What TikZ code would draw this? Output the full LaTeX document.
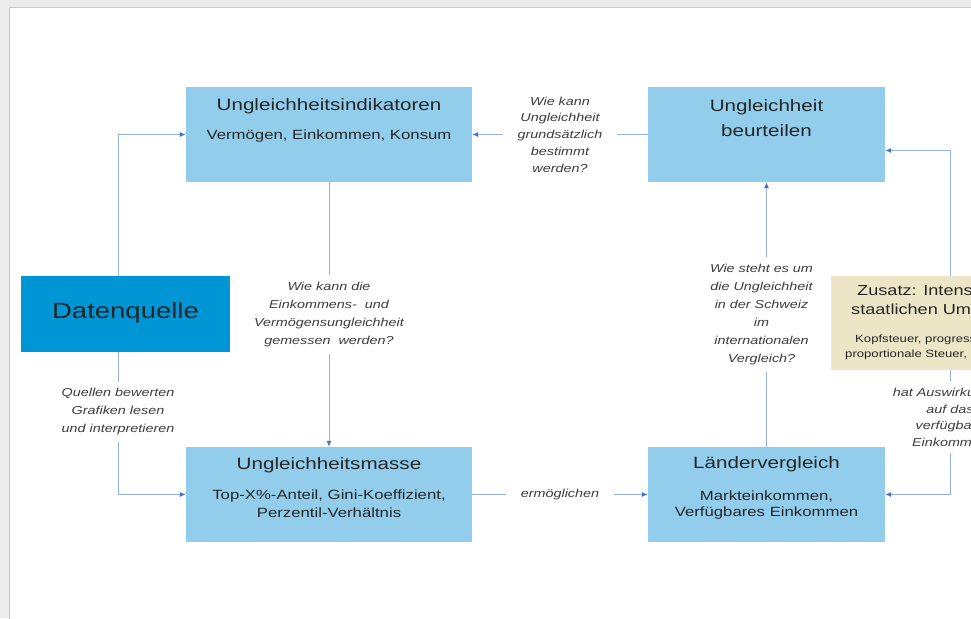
\documentclass[tikz,border=0pt]{standalone}
\usepackage{fontspec}
\setmainfont{Liberation Sans}[FakeStretch=1.25]
\usepackage{tikz}
\usetikzlibrary{positioning}
\usetikzlibrary{arrows.meta}
\definecolor{boxblue}{RGB}{146,205,236}
\definecolor{sourceblue}{RGB}{0,150,214}
\definecolor{extrabeige}{RGB}{236,230,198}
\definecolor{linkblue}{RGB}{150,176,222}
\definecolor{tipblue}{RGB}{68,114,196}
\definecolor{labelgray}{RGB}{60,60,60}
\definecolor{pagegray}{RGB}{236,236,236}
\definecolor{pageedge}{RGB}{200,200,200}
\tikzset {
  % boxes of the scheme
  box/.style = {fill=boxblue, minimum width=286pt, minimum height=95pt, inner sep=0pt},
  narrow/.style = {minimum width=237pt},
  source/.style = {fill=sourceblue, minimum width=209pt, minimum height=76pt, inner sep=0pt},
  extra/.style = {fill=extrabeige, minimum width=238pt, minimum height=94pt, inner sep=0pt},
  % texts in the boxes
  head/.style = {anchor=base, inner sep=0pt, align=center, text=black!85,
    font=\fontsize{16.5}{25}\selectfont},
  sub/.style = {anchor=base, inner sep=0pt, align=center, text=black!85,
    font=\fontsize{13.4}{17}\selectfont},
  small/.style = {anchor=base west, inner sep=0pt, text=black!85,
    font=\fontsize{10.5}{15}\selectfont},
  % connectors and their questions
  link/.style = {linkblue, line width=1pt, -{Latex[length=6pt,width=5pt,color=tipblue]}},
  lbl/.style = {fill=white, inner xsep=15pt, inner ysep=7pt, align=center, text=labelgray,
    font=\itshape\fontsize{11.5}{18}\selectfont},
}
\begin{document}
\begin{tikzpicture}[x=1pt, y=-1pt]
        \useasboundingbox (0,0) rectangle (971,618);
        \clip (0,0) rectangle (971,618);
        \fill[pagegray] (0,0) rectangle (971,618);
        \draw[pageedge, fill=white] (9,7) rectangle (990,640);

        \node[box] (indik) at (329, 134.5) {};
        \node[box, narrow] (urteil) at (766.5, 134.5) {};
        \node[source] (quelle) at (125.5, 314) {};
        \node[box] (masse) at (329, 494.5) {};
        \node[box, narrow] (vergleich) at (766.5, 494.5) {};
        \node[extra] (zusatz) at (950, 323) {};

        \node[head] (indik-t) at (329, 110) {Ungleichheitsindikatoren};
        \node[sub] (indik-s) at (329, 139) {Vermögen, Einkommen, Konsum};
        \node[head, anchor=center] (urteil-t) at (766.5, 118.5) {Ungleichheit\\beurteilen};
        \node[head, font=\fontsize{22}{26}\selectfont] (quelle-t) at (125.5, 318) {Datenquelle};
        \node[head] (masse-t) at (329, 469) {Ungleichheitsmasse};
        \node[sub, anchor=center, font=\fontsize{13.4}{18}\selectfont] (masse-s) at (329, 504)
          {Top-X\%-Anteil, Gini-Koeffizient,\\Perzentil-Verhältnis};
        \node[head] (vergleich-t) at (766.5, 468) {Ländervergleich};
        \node[sub, anchor=center, font=\fontsize{13.4}{16}\selectfont] (vergleich-s) at (766.5, 505)
          {Markteinkommen,\\Verfügbares Einkommen};

        \node[small, font=\fontsize{14.5}{19}\selectfont] (zusatz-t1) at (857, 295) {Zusatz: Intensität der};
        \node[small, font=\fontsize{14.5}{19}\selectfont] (zusatz-t2) at (851, 314) {staatlichen Umverteilung};
        \node[small] (zusatz-s1) at (855, 342) {Kopfsteuer, progressive Steuer,};
        \node[small] (zusatz-s2) at (845, 357) {proportionale Steuer, Negativsteuer};

        \draw[link] ([xshift=-7.5pt]quelle.north) |- (indik.west);
        \draw[link] ([xshift=-7.5pt]quelle.south) |- (masse.west)
          node[lbl, pos=0.21] (q-quelle) {Quellen bewerten\\Grafiken lesen\\und interpretieren};
        \draw[link] (indik) -- (masse)
          node[lbl, midway] (q-mass) {Wie kann die\\Einkommens-\ \ und\\Vermögensungleichheit\\gemessen\ \ werden?};
        \draw[link] (masse) -- (vergleich)
          node[lbl, midway] (q-ermoeglichen) {ermöglichen};
        \draw[link] (vergleich) -- (urteil)
          node[lbl, midway, xshift=-5pt] (q-schweiz) {Wie steht es um\\die Ungleichheit\\in der Schweiz\\im\\internationalen\\Vergleich?};
        \draw[link] (urteil) -- (indik)
          node[lbl, midway, font=\itshape\fontsize{11.5}{16.75}\selectfont] (q-grund) {Wie kann\\Ungleichheit\\grundsätzlich\\bestimmt\\werden?};
        \draw[link] (zusatz.north) |- ([yshift=-16pt]urteil.east);
        \draw[link] (zusatz.south) |- (vergleich.east)
          node[lbl, pos=0.19, inner xsep=2pt, font=\itshape\fontsize{11.5}{16.5}\selectfont] (q-auswirkung) {hat Auswirkungen\\auf das\\verfügbare\\Einkommen};
      \end{tikzpicture}
\end{document}
